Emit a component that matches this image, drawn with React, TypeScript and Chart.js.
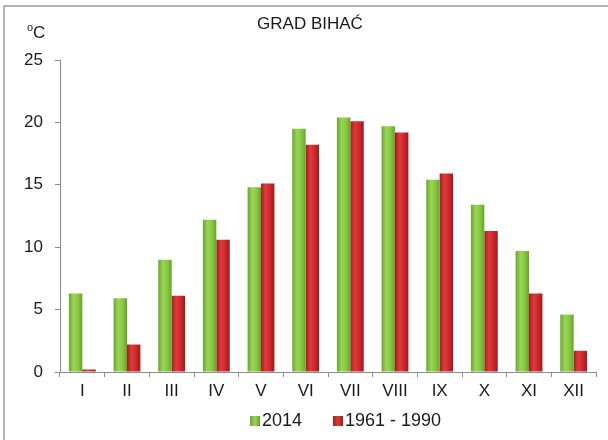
import React, { useEffect, useRef } from "react";
import { Chart, registerables } from "chart.js";

Chart.register(...registerables);

const categories = ["I", "II", "III", "IV", "V", "VI", "VII", "VIII", "IX", "X", "XI", "XII"];
const series2014 = [6.3, 5.9, 9.0, 12.2, 14.8, 19.5, 20.4, 19.7, 15.4, 13.4, 9.7, 4.6];
const series1961 = [0.2, 2.2, 6.1, 10.6, 15.1, 18.2, 20.1, 19.2, 15.9, 11.3, 6.3, 1.7];
const seriesLabels = ["2014", "1961 - 1990"];
const yTicks = [0, 5, 10, 15, 20, 25];
const titleText = "GRAD BIHAĆ";

const FONT = "'Liberation Sans', Arial, sans-serif";
const palettes = [
  { solid: "#84c440", stops: ["#68a52e", "#9ad654", "#86c542", "#66a22c"] },
  { solid: "#cc2a2c", stops: ["#a11d1f", "#e23a3a", "#c8272a", "#9c1b1d"] },
];

const decorPlugin = {
  id: "decor",
  beforeDatasetsDraw(chart: any) {
    const ctx = chart.ctx;
    chart.data.datasets.forEach((_: any, di: number) => {
      const meta = chart.getDatasetMeta(di);
      const p = palettes[di];
      meta.data.forEach((el: any) => {
        const { x, width } = el.getProps(["x", "width"], true);
        const g = ctx.createLinearGradient(x - width / 2, 0, x + width / 2, 0);
        g.addColorStop(0, p.stops[0]);
        g.addColorStop(0.35, p.stops[1]);
        g.addColorStop(0.7, p.stops[2]);
        g.addColorStop(1, p.stops[3]);
        const copy = Object.assign(Object.create(Object.getPrototypeOf(el.options)), el.options);
        copy.backgroundColor = g;
        el.options = copy;
      });
    });
  },
  afterDraw(chart: any) {
    const ctx = chart.ctx;
    ctx.save();
    // frame
    ctx.strokeStyle = "#9a9a9a";
    ctx.lineWidth = 1.5;
    ctx.beginPath();
    ctx.moveTo(4, 440);
    ctx.lineTo(4, 6);
    ctx.lineTo(608, 6);
    ctx.stroke();
    // title
    ctx.fillStyle = "#1a1a1a";
    ctx.textAlign = "center";
    ctx.textBaseline = "middle";
    ctx.font = `17px ${FONT}`;
    ctx.fillText(titleText, 310, 24);
    // unit
    ctx.textAlign = "left";
    ctx.font = `11px ${FONT}`;
    ctx.fillText("o", 27, 28);
    ctx.font = `17px ${FONT}`;
    ctx.fillText("C", 33, 33);
    // legend
    const items = [
      { x: 250, label: seriesLabels[0], p: palettes[0] },
      { x: 333, label: seriesLabels[1], p: palettes[1] },
    ];
    ctx.font = `18px ${FONT}`;
    items.forEach((it) => {
      const g = ctx.createLinearGradient(it.x, 0, it.x + 10, 0);
      g.addColorStop(0, it.p.stops[0]);
      g.addColorStop(0.5, it.p.stops[1]);
      g.addColorStop(1, it.p.stops[3]);
      ctx.fillStyle = g;
      ctx.fillRect(it.x, 416, 10, 10);
      ctx.fillStyle = "#1a1a1a";
      ctx.fillText(it.label, it.x + 12, 421);
    });
    ctx.restore();
  },
};

export default function App() {
  const ref = useRef<HTMLCanvasElement>(null);
  useEffect(() => {
    if (!ref.current) return;
    const chart = new Chart(ref.current, {
      type: "bar",
      data: {
        labels: categories,
        datasets: [
          { label: seriesLabels[0], data: series2014, backgroundColor: palettes[0].solid, categoryPercentage: 0.6, barPercentage: 1.0 },
          { label: seriesLabels[1], data: series1961, backgroundColor: palettes[1].solid, categoryPercentage: 0.6, barPercentage: 1.0 },
        ],
      },
      options: {
        animation: false,
        responsive: false,
        layout: { padding: { top: 60, left: 0, right: 12, bottom: 34 } },
        plugins: { legend: { display: false }, title: { display: false }, tooltip: { enabled: false } },
        scales: {
          x: {
            grid: { drawOnChartArea: false, drawTicks: true, tickLength: 5, color: "#8c8c8c", offset: true },
            border: { display: true, color: "#8c8c8c", width: 1 },
            ticks: { color: "#1a1a1a", font: { family: FONT, size: 17 }, padding: 4 },
            afterFit: (s: any) => { s.height = 34; },
          },
          y: {
            min: 0,
            max: 25,
            afterBuildTicks: (s: any) => { s.ticks = yTicks.map((v) => ({ value: v })); },
            grid: { drawOnChartArea: false, drawTicks: true, tickLength: 5, color: "#8c8c8c" },
            border: { display: true, color: "#8c8c8c", width: 1 },
            ticks: { color: "#1a1a1a", font: { family: FONT, size: 17 }, padding: 12 },
            afterFit: (s: any) => { s.width = 60; },
          },
        },
      },
      plugins: [decorPlugin],
    });
    return () => chart.destroy();
  }, []);
  return (
    <div style={{ position: "fixed", left: 0, top: 0, width: 608, height: 440, background: "#fff" }}>
      <canvas ref={ref} width={608} height={440} style={{ display: "block" }} />
    </div>
  );
}
